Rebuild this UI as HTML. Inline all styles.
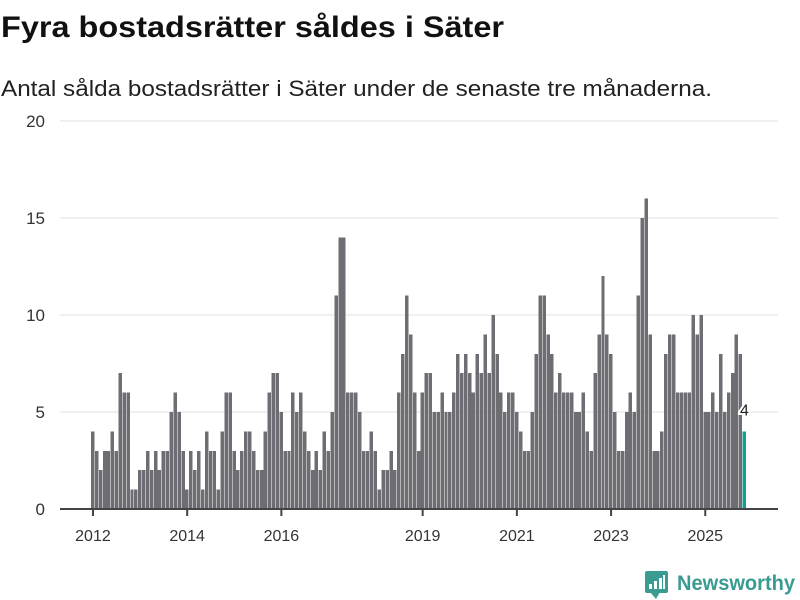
<!DOCTYPE html>
<html><head><meta charset="utf-8"><style>
body{margin:0;background:#fff;}
svg{display:block;font-family:"Liberation Sans",sans-serif;}
</style></head><body>
<svg id="chart" width="800" height="600" viewBox="0 0 800 600">
<text x="1" y="37" font-size="30" font-weight="bold" fill="#111" textLength="503" lengthAdjust="spacingAndGlyphs">Fyra bostadsrätter såldes i Säter</text>
<text x="1" y="96" font-size="22" fill="#222" textLength="711" lengthAdjust="spacingAndGlyphs">Antal sålda bostadsrätter i Säter under de senaste tre månaderna.</text>
<g id="grid"></g>
<g id="bars" shape-rendering="crispEdges"></g>
<g id="xaxis"></g>
<g>
<rect x="645" y="571" width="23" height="22" rx="2" fill="#3a9b91"/>
<polygon points="650,592 656,599 660,592" fill="#3a9b91"/>
<rect x="649" y="584" width="3" height="5" fill="#fff"/>
<rect x="654" y="581" width="3" height="8" fill="#fff"/>
<rect x="659" y="578" width="3" height="11" fill="#fff"/>
<rect x="663" y="575" width="2" height="14" fill="#fff"/>
<text x="677" y="590" font-size="21" font-weight="bold" fill="#3a9b91" textLength="118" lengthAdjust="spacingAndGlyphs">Newsworthy</text>
</g>
</svg>
<script>
const values = [4,3,2,3,3,4,3,7,6,6,1,1,2,2,3,2,3,2,3,3,5,6,5,3,1,3,2,3,1,4,3,3,1,4,6,6,3,2,3,4,4,3,2,2,4,6,7,7,5,3,3,6,5,6,4,3,2,3,2,4,3,5,11,14,14,6,6,6,5,3,3,4,3,1,2,2,3,2,6,8,11,9,6,3,6,7,7,5,5,6,5,5,6,8,7,8,7,6,8,7,9,7,10,8,6,5,6,6,5,4,3,3,5,8,11,11,9,8,6,7,6,6,6,5,5,6,4,3,7,9,12,9,8,5,3,3,5,6,5,11,15,16,9,3,3,4,8,9,9,6,6,6,6,10,9,10,5,5,6,5,8,5,6,7,9,8,4];
const startYear = 2012;
const yTicks = [0,5,10,15,20];
const xTickYears = [2012,2014,2016,2019,2021,2023,2025];
const NS='http://www.w3.org/2000/svg';
const x0=91, step=3.925, yBase=509, yTop=121, yMax=20;
function y(v){return yBase-(v/yMax)*(yBase-yTop);}
function xm(i){return x0+i*step;}
function mk(t,a,p){const e=document.createElementNS(NS,t);for(const k in a)e.setAttribute(k,a[k]);p.appendChild(e);return e;}
const grid=document.getElementById('grid');
yTicks.forEach(t=>{
  if(t>0){const l=mk('line',{x1:60,x2:778,y1:y(t),y2:y(t),stroke:'#e2e2e2','stroke-width':1},grid);
  
  }
  const tx=mk('text',{x:45,y:y(t)+6,'font-size':17,fill:'#333','text-anchor':'end'},grid);
  tx.textContent=t;
  
  
});
const bars=document.getElementById('bars');
values.forEach((v,i)=>{
  const last=i===values.length-1;
  const r=mk('rect',{x:xm(i),y:y(v),width:step-0.45,height:yBase-y(v),fill:last?'#139e95':'#6e6d73'},bars);
  
  
});
const li=values.length-1;
const lab=mk('text',{x:xm(li)+step/2,y:y(values[li])-16,'font-size':16,fill:'#222','text-anchor':'middle',stroke:'#fff','stroke-width':4,'paint-order':'stroke'},bars);
lab.textContent=values[li];


const xa=document.getElementById('xaxis');
const ax=mk('line',{x1:60,x2:778,y1:yBase,y2:yBase,stroke:'#444','stroke-width':2},xa);


xTickYears.forEach(yr=>{
  const i=(yr-startYear)*12;
  const cx=xm(i)+step/2;
  const tk=mk('line',{x1:cx,x2:cx,y1:yBase,y2:yBase+7,stroke:'#444','stroke-width':2},xa);
  
  
  const t=mk('text',{x:cx,y:541,'font-size':16,fill:'#333','text-anchor':'middle'},xa);
  t.textContent=yr;
  
  
});
</script>
</body></html>
